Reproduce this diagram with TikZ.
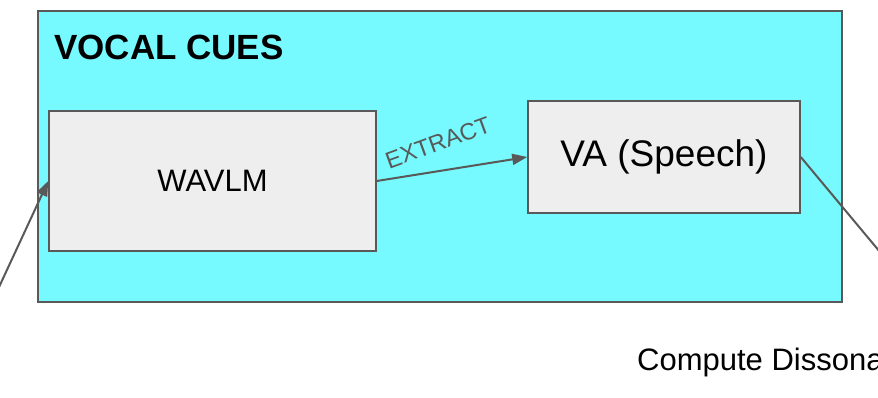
\documentclass[tikz,border=0pt]{standalone}
\usepackage{fontspec}
\setmainfont{Liberation Sans}
\usetikzlibrary{arrows.meta}
\definecolor{cyanfill}{HTML}{76FAFF}
\definecolor{boxfill}{HTML}{EEEEEE}
\definecolor{edgegray}{HTML}{595959}
\begin{document}
\begin{tikzpicture}[x=1pt,y=-1pt,
  panel/.style={draw=edgegray, line width=1.5pt, fill=cyanfill, inner sep=0pt},
  box/.style={draw=edgegray, line width=1.5pt, fill=boxfill, inner sep=0pt},
  conn/.style={draw=edgegray, line width=2pt},
  tip/.style={-{Triangle[length=15pt,width=11pt]}},
  lbl/.style={inner sep=0pt, text=black}]
\useasboundingbox (0,0) rectangle (878,398);
\clip (0,0) rectangle (878,398);
\node[panel, minimum width=804pt, minimum height=291pt] (panel) at (440,156.5) {};
\node[lbl, anchor=base west, font=\bfseries\fontsize{35}{40}\selectfont] (title) at (54,60) {VOCAL CUES};
\node[box, minimum width=327pt, minimum height=140pt, font=\fontsize{31}{36}\selectfont] (wavlm) at (212.5,181) {WAVLM};
\node[box, minimum width=272pt, minimum height=112pt, font=\fontsize{37}{42}\selectfont] (va) at (664,157) {VA (Speech)};
\coordinate (inL) at (-10,306.5);
\coordinate (outR) at (890,264);
\draw[conn, tip] (inL) -- (wavlm.west);
\draw[conn, tip] (wavlm.east) -- (va.west);
\node[inner sep=0pt, text=edgegray, font=\fontsize{23.5}{27}\selectfont, rotate=20] (ex) at (438,143) {EXTRACT};
\draw[conn] (va.east) -- (outR);
\node[lbl, anchor=base west, font=\fontsize{31}{36}\selectfont] (cd) at (637,370) {Compute Dissona};
\end{tikzpicture}
\end{document}
